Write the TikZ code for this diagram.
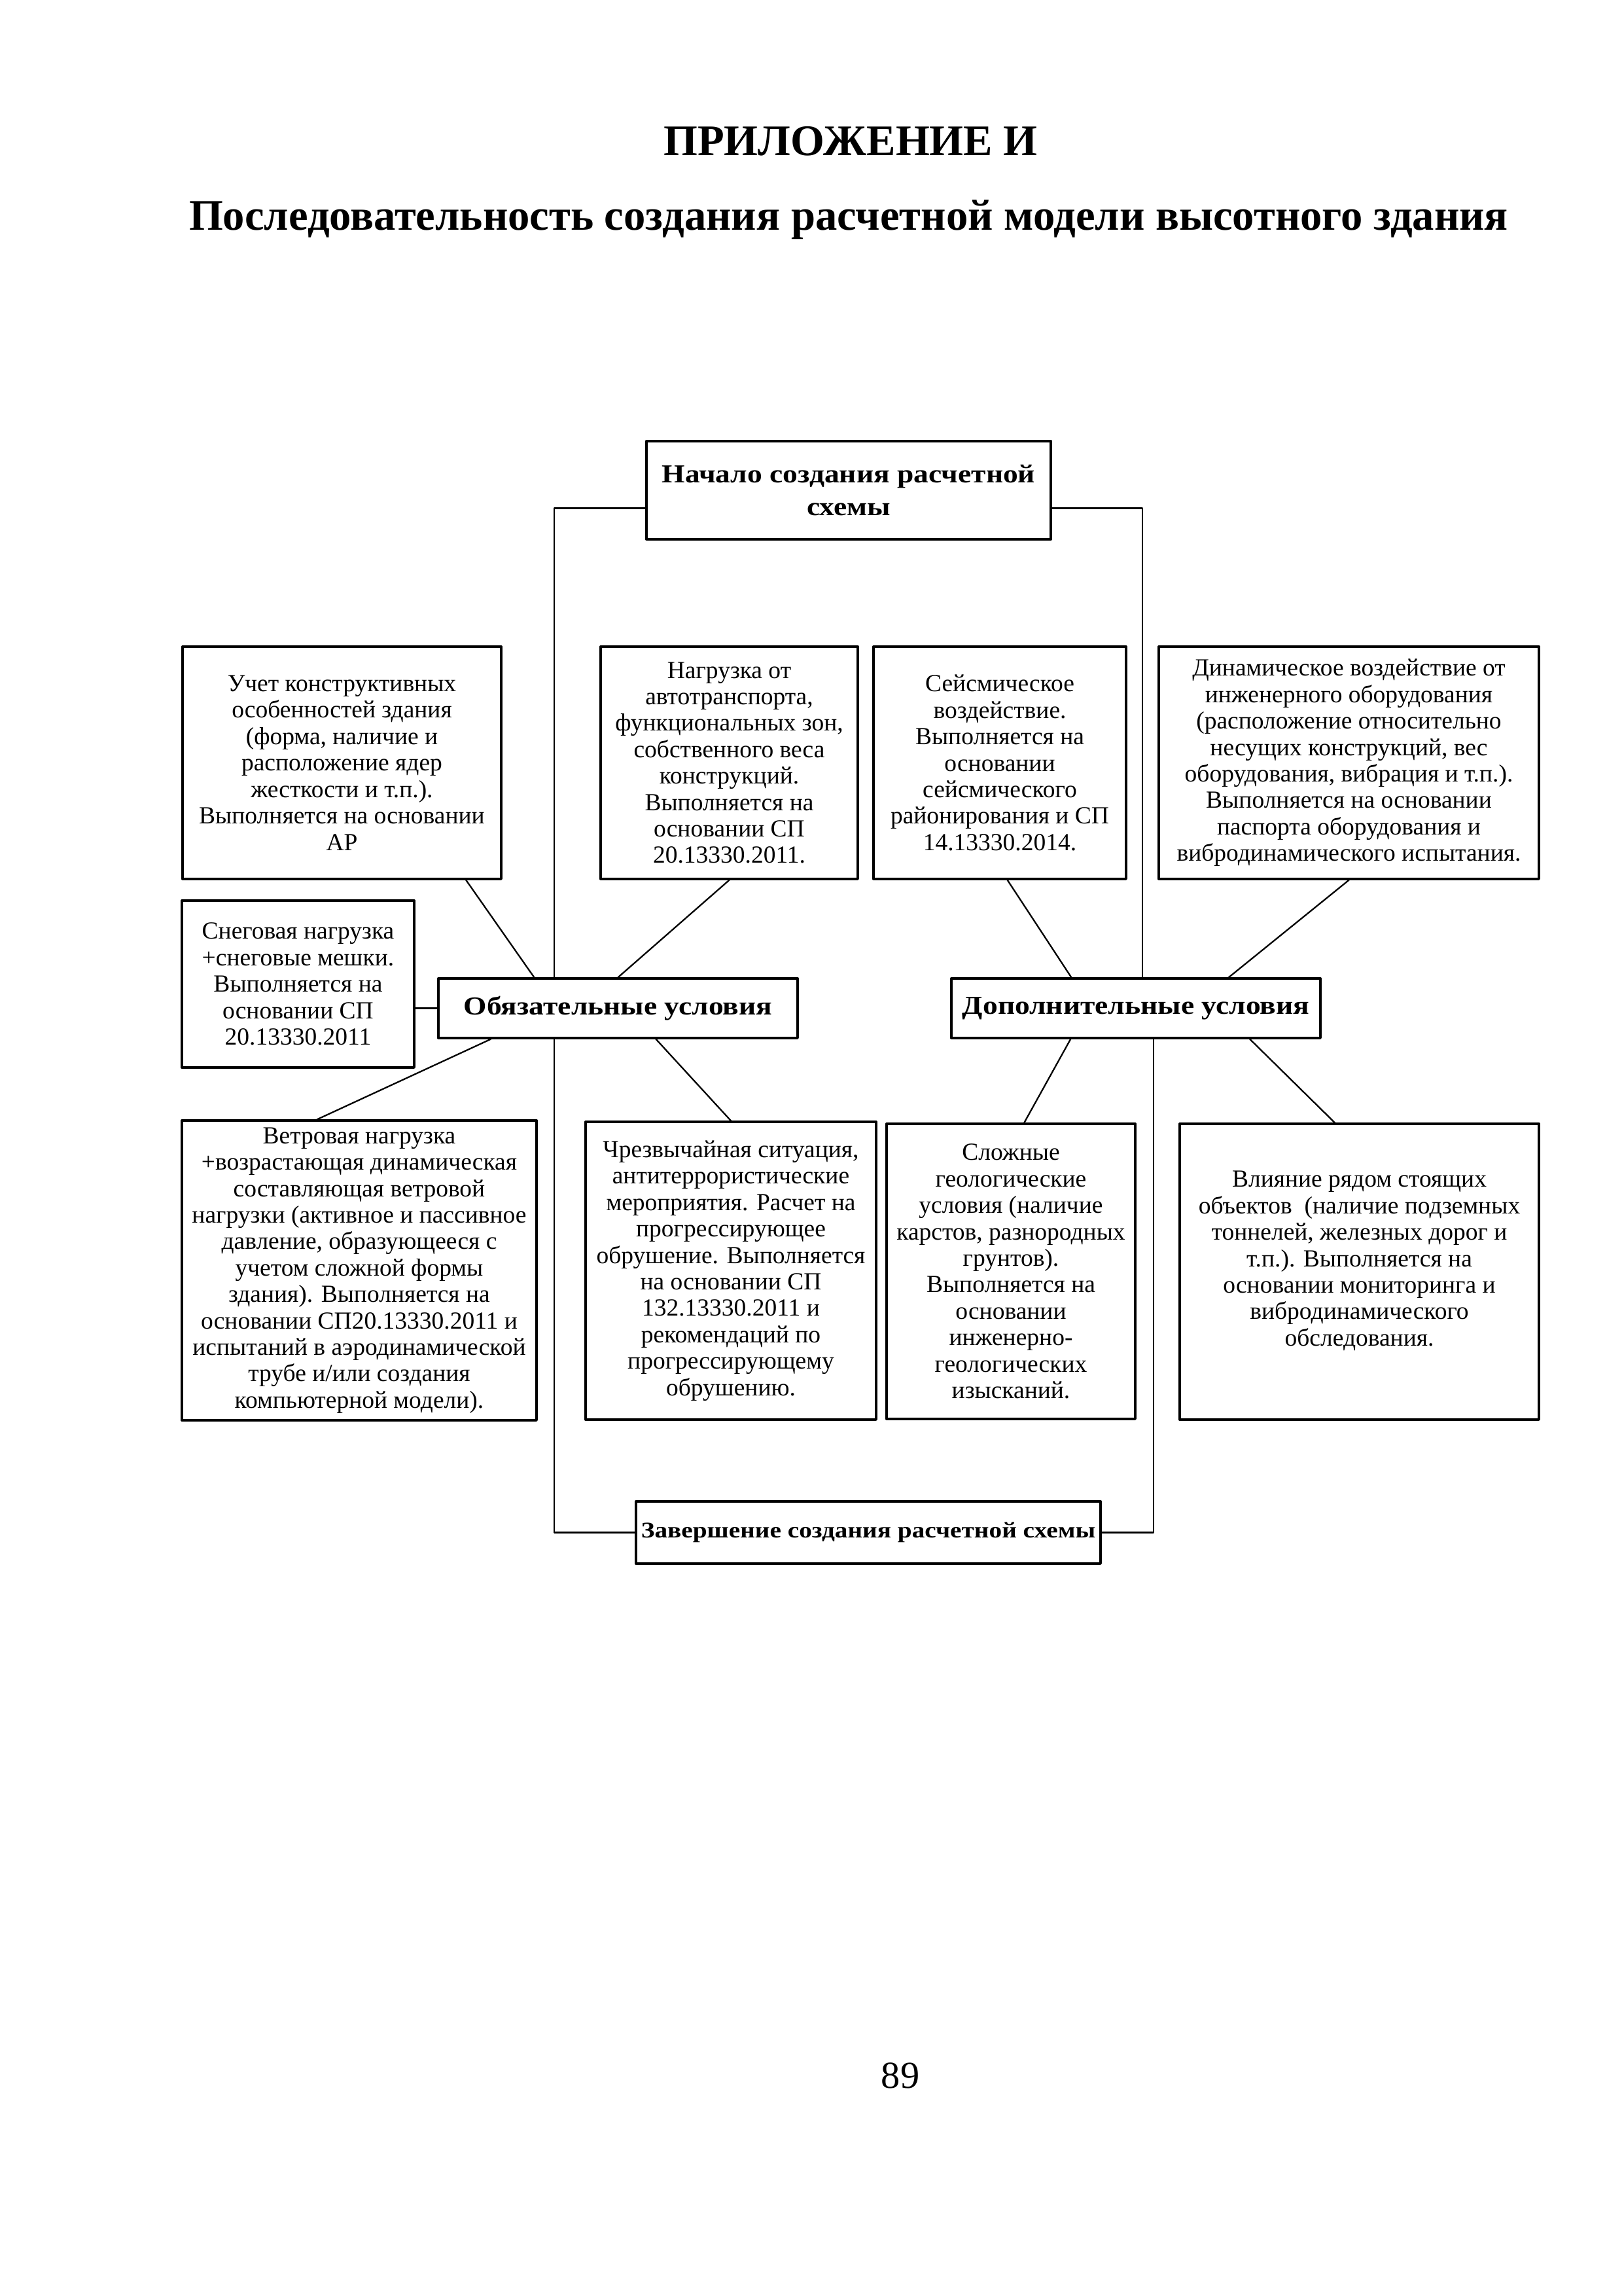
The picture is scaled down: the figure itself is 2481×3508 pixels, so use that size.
\documentclass[tikz,border=0pt]{standalone}
\usepackage{fontspec}
\setmainfont{Liberation Serif}
\newfontfamily\headfont[FakeStretch=1.15]{Liberation Serif}
\usetikzlibrary{calc}

\tikzset{
	blok/.style 2 args={draw, line width=0.8pt, fill=white, align=center, inner sep=0pt,
		minimum width=#1*0.24pt, minimum height=#2*0.24pt, font=\fontsize{9}{9.7}\selectfont},
	headblok/.style 2 args={blok={#1}{#2}, font=\headfont\bfseries\fontsize{9.5}{12.1}\selectfont},
	link/.style={line width=0.55pt}
}

\begin{document}
\begin{tikzpicture}[x=0.24pt, y=-0.24pt, line join=round, line cap=round]

				\useasboundingbox (0,0) rectangle (2481,3508);

				% Заголовок страницы
				\node[anchor=base, font=\bfseries\fontsize{16}{19}\selectfont] (title) at (1300,238) {ПРИЛОЖЕНИЕ И};
				\node[anchor=base, font=\bfseries\fontsize{16}{19}\selectfont] (subtitle) at (1297,352) {Последовательность создания расчетной модели высотного здания};

				% Начало и конец схемы
				\node[headblok={618}{150}] (start) at (1297,749) {Начало создания расчетной\\схемы};
				\node[headblok={710}{95}, font=\headfont\bfseries\fontsize{8.2}{10}\selectfont] (finish) at (1327,2341.5) {Завершение создания расчетной схемы};

				% Верхний ряд
				\node[blok={487}{355}] (uchet) at (522.5,1165.5) {Учет конструктивных\\особенностей здания\\(форма, наличие и\\расположение ядер\\жесткости и т.п.).\\Выполняется на основании\\АР};
				\node[blok={393}{355}] (nagr) at (1114.5,1165.5) {Нагрузка от\\автотранспорта,\\функциональных зон,\\собственного веса\\конструкций.\\Выполняется на\\основании СП\\20.13330.2011.};
				\node[blok={386}{355}] (seism) at (1528,1165.5) {Сейсмическое\\воздействие.\\Выполняется на\\основании\\сейсмического\\районирования и СП\\14.13330.2014.};
				\node[blok={581}{355}] (dinam) at (2061.5,1165.5) {Динамическое воздействие от\\инженерного оборудования\\(расположение относительно\\несущих конструкций, вес\\оборудования, вибрация и т.п.).\\Выполняется на основании\\паспорта оборудования и\\вибродинамического испытания.};

				% Средний ряд
				\node[blok={355}{255}] (sneg) at (455.5,1503.5) {Снеговая нагрузка\\+снеговые мешки.\\Выполняется на\\основании СП\\20.13330.2011};
				\node[headblok={549}{91}] (obyaz) at (944.5,1540.5) {Обязательные условия};
				\node[headblok={564}{91}] (dop) at (1736,1540.5) {Дополнительные условия};

				% Нижний ряд
				\node[blok={542}{458}] (veter) at (549,1941) {Ветровая нагрузка\\+возрастающая динамическая\\составляющая ветровой\\нагрузки (активное и пассивное\\давление, образующееся с\\учетом сложной формы\\здания). Выполняется на\\основании СП20.13330.2011 и\\испытаний в аэродинамической\\трубе и/или создания\\компьютерной модели).};
				\node[blok={444}{455}] (chs) at (1117,1941.5) {Чрезвычайная ситуация,\\антитеррористические\\мероприятия. Расчет на\\прогрессирующее\\обрушение. Выполняется\\на основании СП\\132.13330.2011 и\\рекомендаций по\\прогрессирующему\\обрушению.};
				\node[blok={380}{451}] (geol) at (1545,1942.5) {Сложные\\геологические\\условия (наличие\\карстов, разнородных\\грунтов).\\Выполняется на\\основании\\инженерно-\\геологических\\изысканий.};
				\node[blok={549}{452}] (vliyan) at (2077.5,1943) {Влияние рядом стоящих\\объектов~ (наличие подземных\\тоннелей, железных дорог и\\т.п.). Выполняется на\\основании мониторинга и\\вибродинамического\\обследования.\\ \mbox{}};

				% Боковые линии от начала к концу
				\coordinate (railL) at ($(obyaz.north west)!.324!(obyaz.north east)$);
				\coordinate (railR) at ($(dop.north west)!.518!(dop.north east)$);
				\coordinate (railR2) at ($(dop.south west)!.548!(dop.south east)$);
				\draw[link] ($(start.north west)!.68!(start.south west)$) -| (railL);
				\draw[link] (railL |- obyaz.south) |- (finish.west);
				\draw[link] ($(start.north east)!.68!(start.south east)$) -| (railR);
				\draw[link] (railR2) |- (finish.east);

				% Связи с условиями
				\draw[link] (obyaz.west -| sneg.east) -- (obyaz.west);
				\foreach \from/\pa/\to/\pb in {uchet/.887/obyaz/.268, nagr/.5/obyaz/.5, seism/.53/dop/.326, dinam/.5/dop/.75} {
					\draw[link] ($(\from.south west)!\pa!(\from.south east)$) -- ($(\to.north west)!\pb!(\to.north east)$);
				}
				\foreach \from/\pa/\to/\pb in {obyaz/.148/veter/.382, obyaz/.605/chs/.5, dop/.324/geol/.553, dop/.807/vliyan/.432} {
					\draw[link] ($(\from.south west)!\pa!(\from.south east)$) -- ($(\to.north west)!\pb!(\to.north east)$);
				}

				% Номер страницы
				\node[anchor=base, font=\fontsize{14}{16}\selectfont] (page) at (1376,3190) {89};

			\end{tikzpicture}
\end{document}
